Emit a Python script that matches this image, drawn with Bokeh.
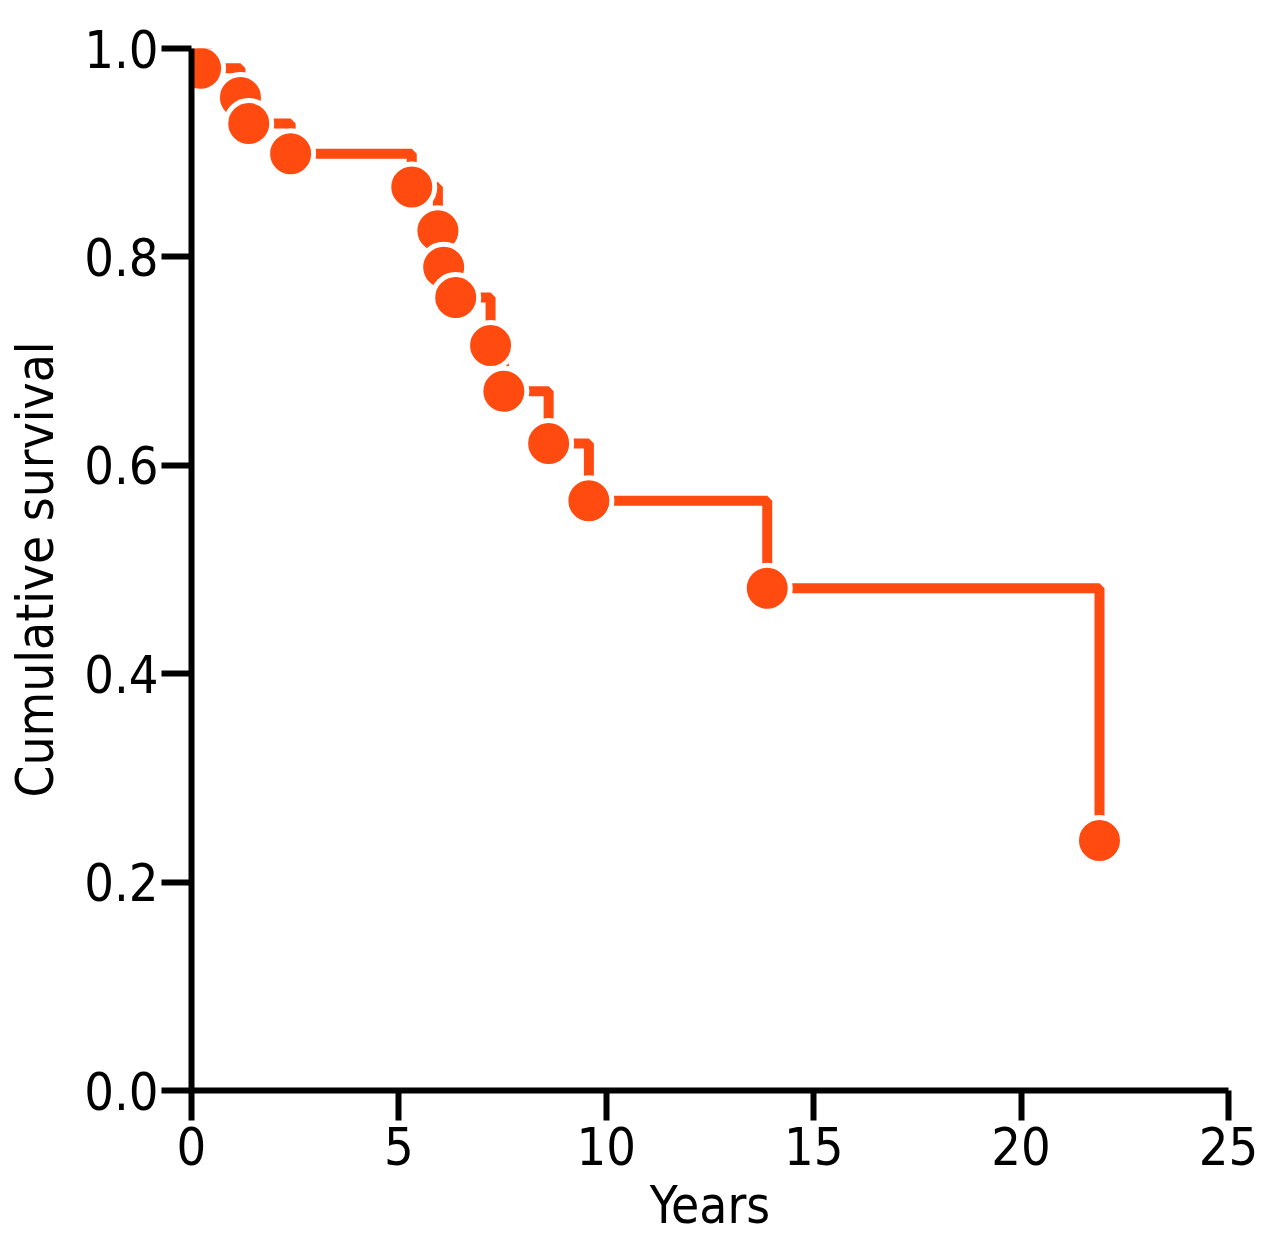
from bokeh.plotting import figure
from bokeh.models import Range1d, FixedTicker, PrintfTickFormatter, ColumnDataSource
from bokeh.embed import file_html
from bokeh.resources import INLINE

# Data (Kaplan-Meier style curve)
years = [0.0, 0.22, 1.18, 1.38, 2.39, 5.31, 5.94, 6.08, 6.37, 7.21, 7.53, 8.61, 9.58, 13.88, 21.89]
survival = [1.0, 0.981, 0.953, 0.928, 0.899, 0.867, 0.825, 0.790, 0.761, 0.715, 0.671, 0.621, 0.566, 0.482, 0.240]
event_years = years[1:]
event_survival = survival[1:]
x_ticks = [0, 5, 10, 15, 20, 25]
y_ticks = [0.0, 0.2, 0.4, 0.6, 0.8, 1.0]

ORANGE = "#FF4A10"
FONT = "DejaVu Sans Condensed"

p = figure(output_backend="svg", toolbar_location=None,
           frame_width=1037, frame_height=1042,
           min_border_left=191, min_border_right=40,
           min_border_top=48, min_border_bottom=160,
           x_range=Range1d(0, 25), y_range=Range1d(0, 1))

p.step(years, survival, mode="after", line_color=ORANGE, line_width=10)
src = ColumnDataSource(dict(x=event_years, y=event_survival))
p.scatter("x", "y", source=src, size=46, fill_color=ORANGE,
          line_color="white", line_width=5)

p.grid.visible = False
p.outline_line_color = None
p.background_fill_color = "white"
p.border_fill_color = "white"

p.xaxis.ticker = FixedTicker(ticks=x_ticks)
p.yaxis.ticker = FixedTicker(ticks=y_ticks)
p.yaxis.formatter = PrintfTickFormatter(format="%.1f")
p.xaxis.axis_label = "Years"
p.yaxis.axis_label = "Cumulative survival"

for ax in (p.xaxis, p.yaxis):
    ax.axis_line_width = 6
    ax.axis_line_color = "black"
    ax.major_tick_line_width = 6
    ax.major_tick_line_color = "black"
    ax.major_tick_in = 0
    ax.major_tick_out = 30
    ax.minor_tick_line_color = None
    ax.major_label_text_font = FONT
    ax.major_label_text_font_size = "52px"
    ax.major_label_text_color = "black"
    ax.axis_label_text_font = FONT
    ax.axis_label_text_font_size = "51px"
    ax.axis_label_text_font_style = "normal"
    ax.axis_label_text_color = "black"

p.xaxis.major_label_standoff = 6
p.yaxis.major_label_standoff = 3
p.xaxis.axis_label_standoff = 8
p.yaxis.axis_label_standoff = 16

open("out.html", "w").write(file_html(p, INLINE))
